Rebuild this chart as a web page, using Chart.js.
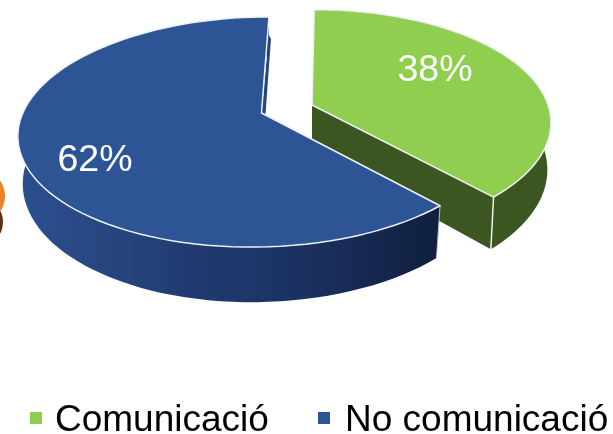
<!DOCTYPE html>
<html>
<head>
<meta charset="utf-8">
<script src="https://cdn.jsdelivr.net/npm/chart.js@4/dist/chart.umd.min.js"></script>
<style>
  html, body { margin: 0; padding: 0; background: #fff; }
  canvas { display: block; }
</style>
</head>
<body>
<canvas id="myChart" width="613" height="434"></canvas>
<script>
// Chart values
var categories = ['Comunicació', 'No comunicació'];
var values = [38, 62];

// Colours
var topColors = ['#90ce50', '#2d5596'];
var wallStops = [
    [[0, '#3b5621'], [1, '#3b5621']],
    [[0, '#2b4d8b'], [0.35, '#213c72'], [0.65, '#1b3162'], [1, '#10203e']]
];

// Tilted, exploded look of each slice, relative to the pie's own centre and radius
var tilt = [
    { dx: 5.5, dy: -112, sx: 1.088, sy: 0.512, skew: -0.012, shrink: 0.985 },
    { dx: -45, dy: -104, sx: 1.1, sy: 0.516, skew: -0.04, shrink: 0.98 }
];
var perspective = 0.165;
var depth = 0.212;

// Text placement
var labelSpots = [[435, 70], [95, 160]];
var legendSpots = [[30, 55], [318, 345]];
var labelFont = '37.5px "Liberation Sans", Arial, sans-serif';
var legendFont = '37px "Liberation Sans", Arial, sans-serif';

function project(arc, i, angle, ratio, bottom) {
    var t = tilt[i];
    var theta = angle + Math.PI / 2;
    var u = Math.sin(theta) * ratio;
    var v = -Math.cos(theta) * ratio;
    var w = 1 - perspective * v;
    var R = arc.outerRadius;
    var shrink = bottom ? t.shrink : 1;
    return {
        x: arc.x + t.dx + R * shrink * (t.sx * u + t.skew * v) / w,
        y: arc.y + t.dy + R * (t.sy * v + (bottom ? depth : 0)) / w
    };
}

function rimPoints(arc, i, bottom) {
    var pts = [];
    var steps = 90;
    for (var s = 0; s <= steps; s++) {
        var a = arc.startAngle + (arc.endAngle - arc.startAngle) * s / steps;
        pts.push(project(arc, i, a, 1, bottom));
    }
    return pts;
}

function tracePath(ctx, pts) {
    ctx.beginPath();
    pts.forEach(function(p, n) {
        if (n === 0) ctx.moveTo(p.x, p.y);
        else ctx.lineTo(p.x, p.y);
    });
    ctx.closePath();
}

var pie3d = {
    id: 'pie3d',
    beforeDatasetsDraw: function(chart) {
        var ctx = chart.ctx;
        var arcs = chart.getDatasetMeta(0).data;

        // Edge of the neighbouring pie, cut off by the picture
        ctx.save();
        ctx.fillStyle = '#5b3114';
        ctx.beginPath();
        ctx.ellipse(-16, 222, 19, 22, 0, 0, Math.PI * 2);
        ctx.fill();
        ctx.fillStyle = '#ec8128';
        ctx.beginPath();
        ctx.ellipse(-18, 196, 23, 25, 0, 0, Math.PI * 2);
        ctx.fill();
        ctx.restore();

        arcs.forEach(function(arc, i) {
            var top = rimPoints(arc, i, false);
            var bottom = rimPoints(arc, i, true);
            var apex = project(arc, i, 0, 0, false);
            var apexLow = project(arc, i, 0, 0, true);
            var corner = i === 0 ? top[top.length - 1] : top[0];
            var cornerLow = i === 0 ? bottom[bottom.length - 1] : bottom[0];

            var grad = ctx.createLinearGradient(arc.x + tilt[i].dx - arc.outerRadius, 0, arc.x + tilt[i].dx + arc.outerRadius * 0.8, 0);
            wallStops[i].forEach(function(s) { grad.addColorStop(s[0], s[1]); });

            ctx.save();
            ctx.fillStyle = grad;
            ctx.lineJoin = 'round';

            // outer wall
            tracePath(ctx, top.concat(bottom.slice().reverse()));
            ctx.fill();

            // cut wall of the slice
            tracePath(ctx, [apex, corner, cornerLow, apexLow]);
            ctx.fill();

            // white edge down the front corner
            ctx.strokeStyle = i === 0 ? '#eef2e6' : '#b9c6dc';
            ctx.lineWidth = i === 0 ? 1.5 : 1;
            ctx.beginPath();
            ctx.moveTo(corner.x, corner.y);
            ctx.lineTo(cornerLow.x, cornerLow.y);
            ctx.stroke();

            // thin back cut wall seen in the gap between the slices
            if (i === 1) {
                var back = top[top.length - 1];
                tracePath(ctx, [apex, { x: back.x, y: back.y + 18 }, { x: back.x + 2, y: back.y + 22 }, { x: apex.x + 4, y: apex.y + 1 }]);
                ctx.fillStyle = '#24467f';
                ctx.fill();
            }

            // top face
            tracePath(ctx, [apex].concat(top));
            ctx.fillStyle = topColors[i];
            ctx.fill();
            ctx.strokeStyle = '#eef2f6';
            ctx.lineWidth = 1.5;
            ctx.stroke();
            ctx.restore();
        });

        // percent labels
        ctx.save();
        ctx.font = labelFont;
        ctx.fillStyle = '#ffffff';
        ctx.textAlign = 'center';
        ctx.textBaseline = 'middle';
        values.forEach(function(val, i) {
            ctx.fillText(val + '%', labelSpots[i][0], labelSpots[i][1] + 1);
        });
        ctx.restore();

        // legend row
        ctx.save();
        ctx.font = legendFont;
        ctx.textBaseline = 'alphabetic';
        categories.forEach(function(name, i) {
            ctx.fillStyle = topColors[i];
            ctx.fillRect(legendSpots[i][0], 412, 12, 12);
            ctx.fillStyle = '#000000';
            ctx.fillText(name, legendSpots[i][1], 431);
        });
        ctx.restore();

        return false;
    }
};

var myChart = new Chart(document.getElementById('myChart').getContext('2d'), {
    type: 'pie',
    data: {
        labels: categories,
        datasets: [{
            data: values,
            backgroundColor: topColors,
            borderWidth: 0
        }]
    },
    options: {
        responsive: false,
        animation: false,
        plugins: {
            legend: { display: false },
            tooltip: { enabled: false }
        }
    },
    plugins: [pie3d]
});
</script>
</body>
</html>
